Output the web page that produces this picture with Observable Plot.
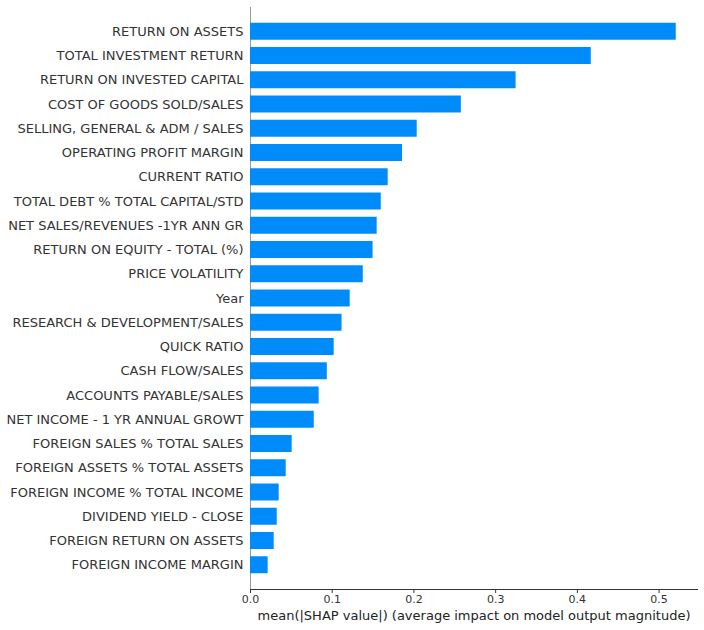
<!DOCTYPE html>
<html>
<head>
<meta charset="utf-8">
<script src="https://cdn.jsdelivr.net/npm/d3@7"></script>
<script src="https://cdn.jsdelivr.net/npm/@observablehq/plot@0.6"></script>
<style>
  html, body { margin: 0; padding: 0; background: #fff; }
  svg { display: block; }
</style>
</head>
<body>
<div id="chart"></div>
<script>
const features = [
  "RETURN ON ASSETS",
  "TOTAL INVESTMENT RETURN",
  "RETURN ON INVESTED CAPITAL",
  "COST OF GOODS SOLD/SALES",
  "SELLING, GENERAL & ADM / SALES",
  "OPERATING PROFIT MARGIN",
  "CURRENT RATIO",
  "TOTAL DEBT % TOTAL CAPITAL/STD",
  "NET SALES/REVENUES -1YR ANN GR",
  "RETURN ON EQUITY - TOTAL (%)",
  "PRICE VOLATILITY",
  "Year",
  "RESEARCH & DEVELOPMENT/SALES",
  "QUICK RATIO",
  "CASH FLOW/SALES",
  "ACCOUNTS PAYABLE/SALES",
  "NET INCOME - 1 YR ANNUAL GROWT",
  "FOREIGN SALES % TOTAL SALES",
  "FOREIGN ASSETS % TOTAL ASSETS",
  "FOREIGN INCOME % TOTAL INCOME",
  "DIVIDEND YIELD - CLOSE",
  "FOREIGN RETURN ON ASSETS",
  "FOREIGN INCOME MARGIN"
];
const meanShap = [
  0.521, 0.417, 0.325, 0.258, 0.204, 0.186, 0.1685, 0.160, 0.155, 0.150,
  0.138, 0.122, 0.112, 0.1024, 0.094, 0.084, 0.078, 0.051, 0.0437, 0.0351,
  0.0327, 0.029, 0.0216
];
const xTicks = [0, 0.1, 0.2, 0.3, 0.4, 0.5];

const data = features.map((f, i) => ({feature: f, value: meanShap[i]}));

const font = "DejaVu Sans, sans-serif";
const chart = Plot.plot({
  width: 704,
  height: 630,
  marginLeft: 250,
  marginRight: 7,
  marginTop: 7,
  marginBottom: 41,
  style: {fontFamily: font, background: "#fff", color: "#333"},
  x: {domain: [0, 0.547]},
  y: {domain: features, paddingInner: 0.3, paddingOuter: 0.65, round: false},
  marks: [
    Plot.ruleX([0], {stroke: "#999999", strokeWidth: 1}),
    Plot.barX(data, {x: "value", y: "feature", fill: "#008bfb"}),
    Plot.frame({anchor: "bottom", stroke: "#333", strokeWidth: 1}),
    Plot.axisY({tickSize: 0, tickPadding: 7, fontSize: 13, fill: "#333", label: null}),
    Plot.axisX({ticks: xTicks, tickFormat: d3.format(".1f"), tickSize: 4, tickPadding: 2, fontSize: 11, fill: "#333", stroke: "#333", label: null}),
    Plot.text(["mean(|SHAP value|) (average impact on model output magnitude)"], {
      frameAnchor: "bottom", dy: 26, fontSize: 13, fill: "#222", text: d => d, lineAnchor: "middle"
    })
  ]
});
document.getElementById("chart").append(chart);
</script>
</body>
</html>
